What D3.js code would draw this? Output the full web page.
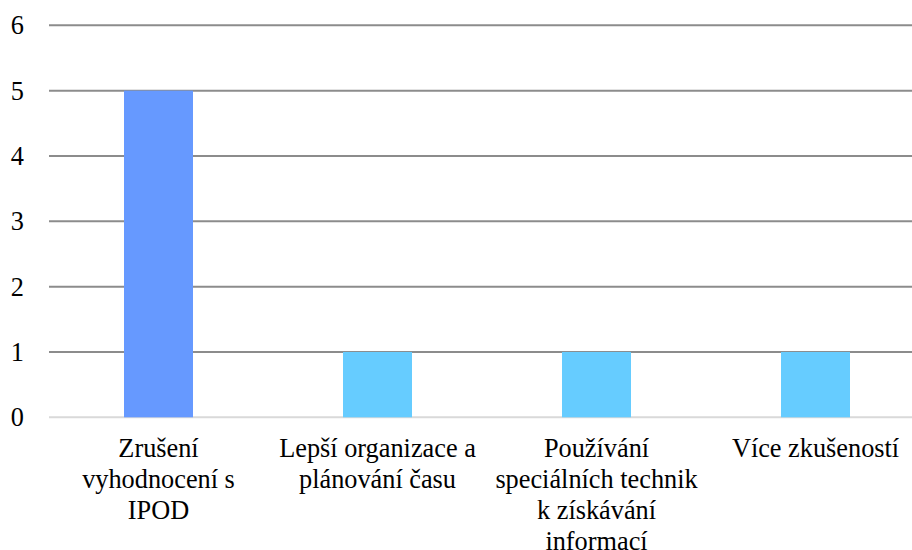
<!DOCTYPE html>
<html>
<head>
<meta charset="utf-8">
<script src="https://cdn.jsdelivr.net/npm/d3@7"></script>
<style>
    html, body { margin: 0; padding: 0; background: #fff; }
    #chart { width: 912px; height: 550px; overflow: hidden; }
</style>
</head>
<body>
<div id="chart"></div>
<script>
//Datos
const categorias = ['Zrušení vyhodnocení s IPOD', 'Lepší organizace a plánování času', 'Používání speciálních technik k získávání informací', 'Více zkušeností'];
const etiquetas = [
    ['Zrušení', 'vyhodnocení s', 'IPOD'],
    ['Lepší organizace a', 'plánování času'],
    ['Používání', 'speciálních technik', 'k získávání', 'informací'],
    ['Více zkušeností']
];
const valores = [5, 1, 1, 1];
const ticksY = [0, 1, 2, 3, 4, 5, 6];

//Colores y fuente
const COLOR_PRIMARY = '#6699FF',
COLOR_SECONDARY = '#66CCFF',
FONT = "'Liberation Serif', 'Times New Roman', serif",
FONT_SIZE = 26.3;

let margin = {top: 25.3, right: -13, bottom: 132.7, left: 49},
    width = 912 - margin.left - margin.right,
    height = 550 - margin.top - margin.bottom;

let svg = d3.select('#chart')
    .append('svg')
        .attr('width', 912)
        .attr('height', 550)
        .attr('font-family', FONT)
    .append('g')
        .attr('transform', 'translate(' + margin.left + ',' + margin.top + ')');

let x = d3.scaleBand()
    .domain(categorias)
    .range([0, width])
    .paddingInner(0.685)
    .paddingOuter(0.3425);

let y = d3.scaleLinear()
    .domain([0, 6])
    .range([height, 0]);

//Rejilla
svg.append('g')
    .selectAll('line')
    .data(ticksY)
    .enter()
    .append('line')
    .attr('x1', 0)
    .attr('x2', width)
    .attr('y1', function(d) { return y(d); })
    .attr('y2', function(d) { return y(d); })
    .attr('stroke', function(d) { return d == 0 ? '#d9d9d9' : '#8c8c8c'; })
    .attr('stroke-width', 2);

//Eje Y
let yAxis = function(g) {
    g.call(d3.axisLeft(y).tickValues(ticksY).tickFormat(d3.format('d')).tickSize(0).tickPadding(25));
    g.attr('font-family', FONT).attr('font-size', FONT_SIZE);
    g.select('.domain').remove();
    g.selectAll('text')
        .attr('font-family', FONT)
        .attr('fill', '#000');
};
svg.append('g').call(yAxis);

//Barras
svg.append('g')
    .selectAll('rect')
    .data(valores)
    .enter()
    .append('rect')
    .attr('x', function(d, i) { return x(categorias[i]); })
    .attr('width', x.bandwidth())
    .attr('y', function(d) { return y(d); })
    .attr('height', function(d) { return y(0) - y(d); })
    .attr('fill', function(d, i) { return i == 0 ? COLOR_PRIMARY : COLOR_SECONDARY; });

//Etiquetas del eje X
let etiq = svg.append('g')
    .selectAll('text')
    .data(categorias)
    .enter()
    .append('text')
    .attr('text-anchor', 'middle')
    .attr('font-family', FONT)
    .attr('font-size', FONT_SIZE)
    .attr('fill', '#000')
    .attr('transform', function(d) { return 'translate(' + (x(d) + x.bandwidth() / 2) + ',' + (height + 39.5) + ')'; });

etiq.selectAll('tspan')
    .data(function(d, i) { return etiquetas[i]; })
    .enter()
    .append('tspan')
    .attr('x', 0)
    .attr('y', function(d, i) { return i * 31; })
    .text(function(d) { return d; });
</script>
</body>
</html>
